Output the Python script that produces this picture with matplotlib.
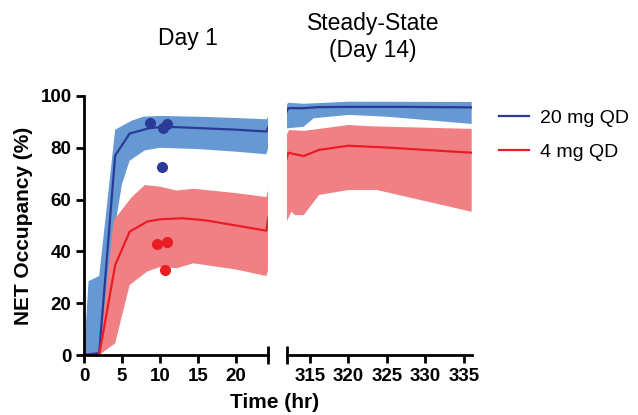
"""NET occupancy, day 1 vs steady state"""
import numpy as np
import matplotlib
matplotlib.use('Agg')
import matplotlib.pyplot as plt
from matplotlib.lines import Line2D

plt.rcParams['font.family'] = ['Liberation Sans', 'DejaVu Sans']

### data ###

# Day 1, 20 mg QD
d1_blue_x = [0, 2, 4.1, 6, 8.5, 10, 12, 16, 20, 24, 24.25]
d1_blue_y = [0, 0.8, 77, 85.5, 87.5, 88, 88, 87.5, 87, 86.3, 88]
d1_blue_up_x = [0, 0.6, 2.0, 4.1, 6.3, 7.8, 10, 15, 20, 24, 24.25]
d1_blue_up_y = [0, 28.5, 30.5, 87, 90.5, 92, 92.3, 92, 91.5, 91, 92]
d1_blue_lo_x = [0, 2.1, 3, 4, 5, 6, 8, 10, 15, 20, 24, 24.25]
d1_blue_lo_y = [0, 0, 22, 48, 66, 75, 79, 80, 79.5, 78.5, 77.5, 80]

# Day 1, 4 mg QD
d1_red_x = [0, 2, 4.1, 6, 8.3, 10, 13, 16, 20, 24, 24.25]
d1_red_y = [0, 0, 34.7, 47.6, 51.5, 52.4, 52.8, 52, 50, 48, 53]
d1_red_up_x = [2, 3.9, 6.3, 8, 10, 12.2, 14.4, 20, 24, 24.25]
d1_red_up_y = [0, 52, 61, 65.6, 65, 63.5, 64.2, 62.5, 61, 64]
d1_red_lo_x = [2, 4.1, 6, 8.3, 10, 12.2, 14.4, 20, 24, 24.25]
d1_red_lo_y = [0, 4.5, 27, 32.2, 34, 33.5, 35.4, 33, 30.5, 33]

# observed data points
obs_blue_x = [8.7, 10.4, 10.9, 10.2]
obs_blue_y = [89.7, 87.5, 89, 72.7]
obs_red_x = [9.6, 10.9, 10.7]
obs_red_y = [42.9, 43.8, 32.8]

# Steady state (day 14), 20 mg QD
ss_blue_x = [312, 312.2, 314.2, 316, 320, 327, 336]
ss_blue_y = [94, 95.3, 95.3, 95.7, 95.8, 95.8, 95.6]
ss_blue_up_x = [312, 312.2, 314.2, 320, 336]
ss_blue_up_y = [96.5, 97.4, 97.0, 97.8, 97.7]
ss_blue_lo_x = [312, 314.2, 315.5, 320, 325, 336]
ss_blue_lo_y = [87.5, 88.1, 91.4, 92.7, 92, 89.2]

# Steady state (day 14), 4 mg QD
ss_red_x = [312, 312.2, 314.2, 316.2, 320, 325, 336]
ss_red_y = [76, 78.1, 76.8, 79.2, 80.8, 80.1, 78.1]
ss_red_up_x = [312, 312.3, 314.2, 320, 323, 336]
ss_red_up_y = [85, 86.9, 86.5, 88.8, 88.3, 87.3]
ss_red_lo_x = [312, 312.6, 313.1, 314.2, 316.2, 320, 323.7, 336]
ss_red_lo_y = [51.5, 55.3, 54, 54, 61.8, 63.7, 63.7, 55.3]

labels = ['20 mg QD', '4 mg QD']
line_cols = ['#2B3A97', '#EC1C24']
band_cols = ['#6699D4', '#F08084']

day1_ticks = [0, 5, 10, 15, 20]
ss_ticks = [315, 320, 325, 330, 335]
y_ticks = [0, 20, 40, 60, 80, 100]


def band(ax, xu, yu, xl, yl, col):
    ax.fill(np.r_[xu, xl[::-1]], np.r_[yu, yl[::-1]], color=col, lw=0)


def style(ax):
    for s in ['top', 'right']:
        ax.spines[s].set_visible(False)
    for s in ['left', 'bottom']:
        ax.spines[s].set_linewidth(2)
    ax.tick_params(width=2, length=6, labelsize=13.5, pad=3)
    for t in ax.get_xticklabels() + ax.get_yticklabels():
        t.set_fontweight('bold')
    ax.set_ylim(0, 100)


fig = plt.figure(figsize=(6.38, 4.15), dpi=100)
ax1 = fig.add_axes([84 / 638, 60 / 415, 184.3 / 638, 259 / 415])
ax2 = fig.add_axes([286.7 / 638, 60 / 415, 185 / 638, 259 / 415])

# day 1
band(ax1, d1_blue_up_x, d1_blue_up_y, d1_blue_lo_x, d1_blue_lo_y, band_cols[0])
band(ax1, d1_red_up_x, d1_red_up_y, d1_red_lo_x, d1_red_lo_y, band_cols[1])
ax1.plot(d1_blue_x, d1_blue_y, color=line_cols[0], lw=1.6)
ax1.plot(d1_red_x, d1_red_y, color=line_cols[1], lw=1.6)
ax1.plot(obs_blue_x, obs_blue_y, 'o', color=line_cols[0], ms=8, mec='none')
ax1.plot(obs_red_x, obs_red_y, 'o', color=line_cols[1], ms=8, mec='none')
ax1.set_xlim(0, 24.25)
ax1.set_xticks(day1_ticks)
ax1.set_yticks(y_ticks)
style(ax1)
ax1.set_ylabel('NET Occupancy (%)', fontsize=15, fontweight='bold', labelpad=5)
# end cap on x axis
ax1.plot([1], [0], marker='|', ms=13, mew=2, color='black',
         transform=ax1.transAxes, clip_on=False)

# steady state
band(ax2, ss_blue_up_x, ss_blue_up_y, ss_blue_lo_x, ss_blue_lo_y, band_cols[0])
band(ax2, ss_red_up_x, ss_red_up_y, ss_red_lo_x, ss_red_lo_y, band_cols[1])
ax2.plot(ss_blue_x, ss_blue_y, color=line_cols[0], lw=1.6)
ax2.plot(ss_red_x, ss_red_y, color=line_cols[1], lw=1.6)
ax2.set_xlim(312, 336)
ax2.set_xticks(ss_ticks)
ax2.set_yticks([])
style(ax2)
ax2.spines['left'].set_visible(False)
ax2.plot([0], [0], marker='|', ms=13, mew=2, color='black',
         transform=ax2.transAxes, clip_on=False)

fig.text(275 / 638, 1 - 402 / 415, 'Time (hr)', ha='center', va='center',
         fontsize=15, fontweight='bold')
fig.text(188 / 638, 1 - 38 / 415, 'Day 1', ha='center', va='center', fontsize=16.5)
fig.text(373 / 638, 1 - 37 / 415, 'Steady-State\n(Day 14)', ha='center', va='center',
         fontsize=16.5, linespacing=1.2)

handles = [Line2D([], [], color=c, lw=1.6) for c in line_cols]
fig.legend(handles, labels, loc='upper left', bbox_to_anchor=(482 / 638, 1 - 92 / 415),
           frameon=False, fontsize=14, handlelength=1.5, handletextpad=0.6,
           labelspacing=0.85)

fig.savefig('out.png', dpi=100)
